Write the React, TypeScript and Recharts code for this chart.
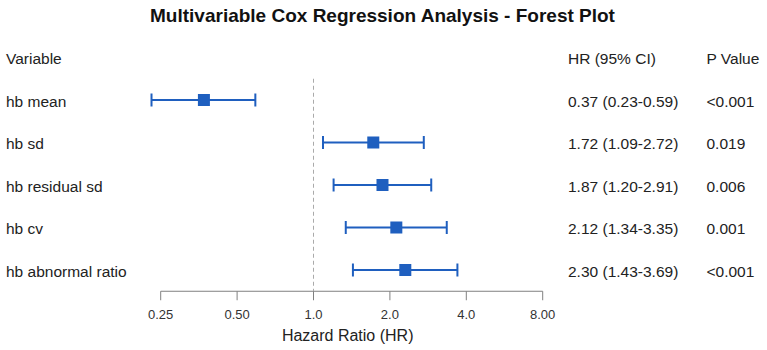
import React from 'react';
import { ScatterChart, Scatter, XAxis, YAxis, ErrorBar, ReferenceLine } from 'recharts';

// Cox model results, one entry per covariate
const variables = ['hb mean', 'hb sd', 'hb residual sd', 'hb cv', 'hb abnormal ratio'];
const hazardRatios = [0.37, 1.72, 1.87, 2.12, 2.3];
const ciLower = [0.23, 1.09, 1.2, 1.34, 1.43];
const ciUpper = [0.59, 2.72, 2.91, 3.35, 3.69];
const pValues = ['<0.001', '0.019', '0.006', '0.001', '<0.001'];

// Column headings and axis ticks
const headers = ['Variable', 'HR (95% CI)', 'P Value'];
const xTicks = [0.25, 0.5, 1, 2, 4, 8];
const xTickLabels = ['0.25', '0.50', '1.0', '2.0', '4.0', '8.00'];

const FONT = '"Liberation Sans", Arial, Helvetica, sans-serif';
const BLUE = '#1f5fbf';
const TEXT = '#222222';

const rows = variables.map((name, i) => ({
  row: i + 1,
  name,
  hr: hazardRatios[i],
  lo: ciLower[i],
  hi: ciUpper[i],
  p: pValues[i],
}));
const rowTicks = [0, ...rows.map((r) => r.row)];

const fmt = (v: number) => v.toFixed(2);

// One table row per y tick: variable name, HR (95% CI) and p value
const RowTick = (props: any) => {
  const { y, payload } = props;
  const i = payload.value as number;
  const name = i === 0 ? headers[0] : variables[i - 1];
  const ci = i === 0 ? headers[1] : `${fmt(hazardRatios[i - 1])} (${fmt(ciLower[i - 1])}-${fmt(ciUpper[i - 1])})`;
  const p = i === 0 ? headers[2] : pValues[i - 1];
  const common = { y, dy: '0.42em', fontSize: 15.5, fill: TEXT, fontFamily: FONT };
  return (
    <g>
      <text x={6} {...common}>{name}</text>
      <text x={568} {...common}>{ci}</text>
      <text x={706.5} {...common}>{p}</text>
    </g>
  );
};

const AxisTitle = (props: any) => {
  const { viewBox } = props;
  if (!viewBox) return null;
  const { x, y, width, height } = viewBox;
  return (
    <text
      x={x + width / 2 - 4}
      y={y + height - 9.3}
      textAnchor="middle"
      fontSize={16}
      fill={TEXT}
      fontFamily={FONT}
    >
      Hazard Ratio (HR)
    </text>
  );
};

const Square = (props: any) => {
  const { cx, cy } = props;
  if (cx == null || cy == null) return null;
  return <rect x={cx - 6} y={cy - 6} width={12} height={12} fill={BLUE} />;
};

export default function App() {
  return (
    <div style={{ position: 'absolute', left: 0, top: 0, width: 767, height: 350, background: '#fff' }}>
      <svg width={767} height={34} style={{ position: 'absolute', left: 0, top: 0 }}>
        <text
          x={382.5}
          y={22}
          textAnchor="middle"
          fontSize={19}
          fontWeight="bold"
          fill="#111"
          fontFamily={FONT}
        >
          Multivariable Cox Regression Analysis - Forest Plot
        </text>
      </svg>
      <ScatterChart
        width={767}
        height={350}
        margin={{ top: 36.25, right: 147.9, bottom: 0, left: 0 }}
        style={{ fontFamily: FONT }}
      >
        <XAxis
          type="number"
          dataKey="hr"
          scale="log"
          domain={[0.125, 16]}
          ticks={xTicks}
          interval={0}
          tickFormatter={(v: number) => xTickLabels[xTicks.indexOf(v)] ?? String(v)}
          axisLine={false}
          tickLine={{ stroke: '#808080', strokeWidth: 1 }}
          tickSize={9}
          tickMargin={10}
          tick={{ fontSize: 13, fill: '#333', fontFamily: FONT }}
          height={58.75}
          label={<AxisTitle />}
        />
        <YAxis
          type="number"
          dataKey="row"
          orientation="left"
          domain={[-0.5, 5.5]}
          reversed
          ticks={rowTicks}
          interval={0}
          width={84.3}
          axisLine={false}
          tickLine={false}
          tick={<RowTick />}
        />
        {/* axis baseline spanning the labelled tick range */}
        <ReferenceLine
          segment={[
            { x: xTicks[0], y: 5.5 },
            { x: xTicks[xTicks.length - 1], y: 5.5 },
          ]}
          stroke="#808080"
          strokeWidth={1}
        />
        {/* line of no effect */}
        <ReferenceLine
          segment={[
            { x: 1, y: 0.5 },
            { x: 1, y: 5.5 },
          ]}
          stroke="#aaaaaa"
          strokeWidth={1}
          strokeDasharray="4 3"
        />
        <Scatter data={rows} dataKey="hr" isAnimationActive={false} shape={<Square />}>
          <ErrorBar
            dataKey={(d: any) => [d.hr - d.lo, d.hi - d.hr]}
            direction="x"
            width={6.5}
            stroke={BLUE}
            strokeWidth={2}
            isAnimationActive={false}
          />
        </Scatter>
      </ScatterChart>
    </div>
  );
}
